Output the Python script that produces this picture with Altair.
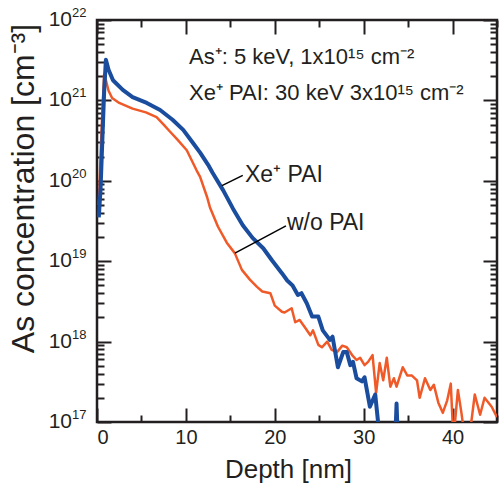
import altair as alt
import pandas as pd

# ---- data ----
xe_depth = [0.2, 0.4, 0.6, 0.8, 1.0, 1.3, 1.8, 2.9, 4.0, 5.6, 7.1, 8.5, 9.7, 10.8, 11.6, 12.5,
            13.0, 14.2, 15.3, 16.4, 17.5, 18.7, 19.7, 20.8, 21.4, 22.0, 22.6, 23.0, 23.6, 24.2,
            24.9, 25.4, 26.2, 26.5, 27.1, 27.7, 28.1, 28.5, 28.8, 29.2, 29.8, 30.1, 30.7, 31.3,
            31.6, 32.0, 33.5, 33.7, 33.9]
xe_conc = [3.5e19, 7.9e19, 3.2e20, 1.26e21, 3.2e21, 2.4e21, 1.78e21, 1.35e21, 1.1e21, 9.3e20,
           7.6e20, 5.75e20, 4.3e20, 2.95e20, 2.24e20, 1.58e20, 1.26e20, 7.6e19, 4.5e19, 2.8e19,
           1.95e19, 1.45e19, 1.02e19, 7.1e18, 5.75e18, 5.0e18, 3.8e18, 4.0e18, 3.0e18, 2.05e18,
           2.05e18, 1.38e18, 1.05e18, 1.15e18, 4.8e17, 7.4e17, 7.4e17, 5.1e17, 5.6e17, 3.5e17,
           3.2e17, 3.6e17, 1.55e17, 2.2e17, 1.05e17, 4e16, 4e16, 1.7e17, 4e16]

wo_depth = [0.2, 0.5, 0.8, 1.0, 1.3, 1.7, 2.5, 4.0, 5.5, 6.7, 7.5, 8.2, 9.0, 10.1, 11.2, 11.6,
            12.4, 12.7, 13.6, 14.6, 15.5, 16.3, 17.2, 18.0, 18.6, 19.5, 20.0, 20.8, 21.1, 21.9,
            22.3, 22.8, 23.4, 24.0, 24.3, 24.9, 25.3, 25.9, 26.4, 27.0, 27.6, 28.1, 28.7, 29.2,
            29.6, 30.1, 30.5, 31.0, 31.4, 31.8, 32.2, 32.6, 33.0, 33.4, 33.7, 34.4, 34.9, 35.4,
            36.0, 36.3, 36.9, 37.5, 37.9, 38.4, 38.9, 39.4, 39.8, 40.1, 40.6, 41.0, 41.4, 42.0,
            42.5, 43.1, 43.6, 44.4, 45.0]
wo_conc = [5e19, 4e20, 2.1e21, 1.78e21, 1.32e21, 1.07e21, 9.3e20, 7.9e20, 7.1e20, 6.2e20,
           5.0e20, 4.1e20, 3.3e20, 2.4e20, 1.35e20, 1.12e20, 6.2e19, 4.7e19, 2.7e19, 1.7e19,
           1.26e19, 7.8e18, 5.9e18, 4.8e18, 4.2e18, 4.0e18, 2.8e18, 2.35e18, 2.3e18, 2.6e18,
           1.74e18, 1.86e18, 1.5e18, 1.2e18, 1.38e18, 9.1e17, 8.5e17, 1.0e18, 7.9e17, 7.4e17,
           8.9e17, 8.5e17, 6.8e17, 5.9e17, 6.3e17, 5.1e17, 5.6e17, 6.8e17, 2.3e17, 5.4e17,
           3.3e17, 6.3e17, 2.75e17, 3.5e17, 2.75e17, 4.8e17, 3.8e17, 3.8e17, 3.3e17, 2.0e17,
           3.5e17, 2.5e17, 2.9e17, 1.74e17, 1.3e17, 1.86e17, 3.0e17, 6e16, 2.5e17, 1.3e17,
           6e16, 8e16, 2.2e17, 1.23e17, 2.0e17, 1.55e17, 1.15e17]

x_major = [0, 10, 20, 30, 40]
x_minor = [5, 15, 25, 35, 45]
y_major = [1e17, 1e18, 1e19, 1e20, 1e21, 1e22]
y_major_exp = ["17", "18", "19", "20", "21", "22"]
y_minor = [k * 10.0 ** n for n in range(17, 22) for k in range(2, 10)]

note_text = ["As\u207a: 5 keV, 1x10\u00b9\u2075 cm\u207b\u00b2",
             "Xe\u207a PAI: 30 keV 3x10\u00b9\u2075 cm\u207b\u00b2"]
note_x = [10.35, 10.35]
note_y = [2.8e21, 1.0e21]

label_text = ["Xe\u207a PAI", "w/o PAI"]
label_x = [16.65, 21.37]
label_y = [9.7e19, 2.45e19]
leader_x = [16.4, 21.26]
leader_y = [1.17e20, 2.75e19]
leader_x2 = [14.06, 15.52]
leader_y2 = [8.7e19, 1.26e19]

BLUE = "#1a4d9e"
RED = "#f05a28"
INK = "#231f20"
FONT = "Liberation Sans"
W, H = 400, 402

xs = alt.Scale(domain=[0, 45], nice=False, zero=False)
ys = alt.Scale(type="log", domain=[1e17, 1e22], nice=False)

# inward ticks: negative tick size via an expression; minor ticks shortened with a dash
X_MINOR_TEST = "datum.value % 10 != 0"
Y_MINOR_TEST = "abs(log(datum.value)/LN10 - round(log(datum.value)/LN10)) > 0.01"
tick_common = dict(ticks=True, tickSize={"expr": "-14"}, tickColor=INK, tickWidth=2,
                   domain=False, grid=False)


def x_dash():
    return {"condition": {"test": X_MINOR_TEST, "value": [7, 40]}, "value": []}


def y_dash():
    return {"condition": {"test": Y_MINOR_TEST, "value": [7, 40]}, "value": []}


x_axis_bottom = alt.Axis(orient="bottom", values=x_major + x_minor, tickDash=x_dash(),
                         labelExpr="datum.value % 10 == 0 ? datum.label : ''",
                         labelFontSize=20, labelFont=FONT, labelColor=INK, labelPadding=19,
                         title="Depth [nm]", titleFontSize=26, titleFont=FONT, titleColor=INK,
                         titleFontWeight="normal", titleX=191, titleY=55,
                         titleBaseline="alphabetic", **tick_common)
y_axis_left = alt.Axis(orient="left", values=y_major + y_minor, tickDash=y_dash(), labels=False,
                       title="As concentration [cm\u207b\u00b3]", titleFontSize=32, titleFont=FONT,
                       titleColor=INK, titleFontWeight="normal", titleX=-74, titleY=168,
                       titleBaseline="middle", titleAngle=270, titleAlign="center",
                       **tick_common)
x_axis_top = alt.Axis(orient="top", values=x_major + x_minor, tickDash=x_dash(), labels=False,
                      title="", **tick_common)
y_axis_right = alt.Axis(orient="right", values=y_major + y_minor, tickDash=y_dash(),
                        labels=False, title="", **tick_common)

xe_df = pd.DataFrame({"depth": xe_depth, "conc": xe_conc})
wo_df = pd.DataFrame({"depth": wo_depth, "conc": wo_conc})

wo_line = alt.Chart(wo_df).mark_line(color=RED, strokeWidth=2.5, clip=True,
                                     strokeJoin="round").encode(
    x=alt.X("depth:Q", scale=xs, axis=x_axis_bottom),
    y=alt.Y("conc:Q", scale=ys, axis=y_axis_left))
xe_line = alt.Chart(xe_df).mark_line(color=BLUE, strokeWidth=4, clip=True,
                                     strokeJoin="round").encode(
    x=alt.X("depth:Q", scale=xs, axis=x_axis_top),
    y=alt.Y("conc:Q", scale=ys, axis=y_axis_right))

ylab_df = pd.DataFrame({"v": y_major, "base": ["10"] * len(y_major), "exp": y_major_exp})
ylab_base = alt.Chart(ylab_df).mark_text(align="right", baseline="middle", fontSize=21,
                                         font=FONT, color=INK).encode(
    y=alt.Y("v:Q", scale=ys, axis=None), x=alt.value(-25), text="base:N")
ylab_exp = alt.Chart(ylab_df).mark_text(align="left", baseline="middle", fontSize=13,
                                        font=FONT, color=INK, dy=-7).encode(
    y=alt.Y("v:Q", scale=ys, axis=None), x=alt.value(-25), text="exp:N")

notes = alt.Chart(pd.DataFrame({"t": note_text, "x": note_x, "y": note_y})).mark_text(
    align="left", baseline="alphabetic", fontSize=22, font=FONT, color=INK).encode(
    x=alt.X("x:Q", scale=xs, axis=None), y=alt.Y("y:Q", scale=ys, axis=None), text="t:N")

labels = alt.Chart(pd.DataFrame({"t": label_text, "x": label_x, "y": label_y})).mark_text(
    align="left", baseline="alphabetic", fontSize=23, font=FONT, color=INK).encode(
    x=alt.X("x:Q", scale=xs, axis=None), y=alt.Y("y:Q", scale=ys, axis=None), text="t:N")

leaders = alt.Chart(pd.DataFrame({"x": leader_x, "y": leader_y,
                                  "x2": leader_x2, "y2": leader_y2})).mark_rule(
    color="black", strokeWidth=1.5).encode(
    x=alt.X("x:Q", scale=xs, axis=None), y=alt.Y("y:Q", scale=ys, axis=None),
    x2="x2:Q", y2="y2:Q")

chart = alt.layer(wo_line, xe_line, leaders, notes, labels, ylab_base, ylab_exp).resolve_axis(
    x="independent", y="independent"
).properties(
    width=W, height=H,
    autosize=alt.AutoSizeParams(type="none"),
    padding={"left": 97, "top": 20, "right": 2, "bottom": 64},
    background="white",
).configure_view(stroke=INK, strokeWidth=2.5)

chart.save("out.html", embed_options={"renderer": "svg", "actions": False})
